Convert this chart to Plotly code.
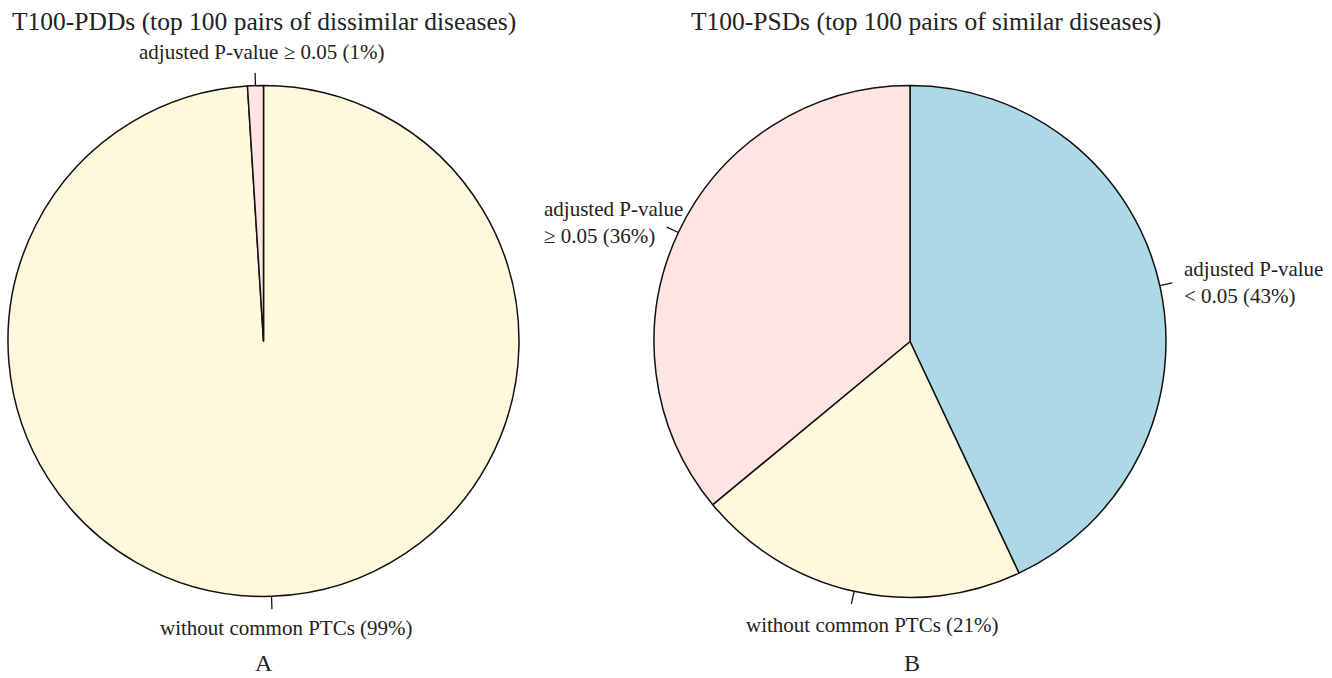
import math
import plotly.graph_objects as go

W, H = 1332, 678

# Data
cats_A = ["without common PTCs", "adjusted P-value ≥ 0.05"]
vals_A = [99, 1]
cols_A = ["#FFF8DC", "#FFE4E1"]

cats_B = ["adjusted P-value < 0.05", "without common PTCs", "adjusted P-value ≥ 0.05"]
vals_B = [43, 21, 36]
cols_B = ["#ADD8E6", "#FFF8DC", "#FFE4E1"]

labels_A = ["without common PTCs (99%)", "adjusted P-value ≥ 0.05 (1%)"]
labels_B = ["adjusted P-value<br>< 0.05 (43%)", "without common PTCs (21%)",
            "adjusted P-value<br>≥ 0.05 (36%)"]

title_A = "T100-PDDs (top 100 pairs of dissimilar diseases)"
title_B = "T100-PSDs (top 100 pairs of similar diseases)"

FONT = "Liberation Serif, Times New Roman, serif"
TXT = "#222222"


def px(x):
    return x / W


def py(y):
    return 1 - y / H


# pie geometry (pixels)
pies = [
    dict(cx=263.5, cy=341.0, r=255.5, vals=vals_A, cats=cats_A, cols=cols_A,
         labels=labels_A,
         tpos=[(286, 628, "center", "center"), (261, 52, "center", "center")]),
    dict(cx=910.0, cy=341.5, r=256.0, vals=vals_B, cats=cats_B, cols=cols_B,
         labels=labels_B,
         tpos=[(1182, 283, "left", "left"), (872, 625, "center", "center"),
               (542, 222, "left", "left")]),
]

fig = go.Figure()
shapes = []
annotations = []

for p in pies:
    cx, cy, r = p["cx"], p["cy"], p["r"]
    fig.add_trace(go.Pie(
        labels=p["cats"], values=p["vals"], sort=False, direction="clockwise",
        rotation=0, textinfo="none", hoverinfo="label+percent",
        marker=dict(colors=p["cols"], line=dict(color="#111111", width=1.5)),
        domain=dict(x=[px(cx - r), px(cx + r)], y=[py(cy + r), py(cy - r)]),
        showlegend=False,
    ))
    total = sum(p["vals"])
    cum = 0
    for v, lab, (tx, ty, xa, al) in zip(p["vals"], p["labels"], p["tpos"]):
        mid = (cum + v / 2) / total
        cum += v
        ang = 2 * math.pi * mid  # clockwise from top
        sx, sy = math.sin(ang), -math.cos(ang)
        x0, y0 = cx + r * sx, cy + r * sy
        x1, y1 = cx + 1.05 * r * sx, cy + 1.05 * r * sy
        shapes.append(dict(type="line", xref="paper", yref="paper",
                           x0=px(x0), y0=py(y0), x1=px(x1), y1=py(y1),
                           line=dict(color="#111111", width=1.3)))
        annotations.append(dict(x=px(tx), y=py(ty), xref="paper", yref="paper",
                                text=lab, showarrow=False, xanchor=xa,
                                yanchor="middle", align=al,
                                font=dict(family=FONT, size=21, color=TXT)))

for t, x in [(title_A, 263.5), (title_B, 926)]:
    annotations.append(dict(x=px(x), y=py(21), xref="paper", yref="paper",
                            text=t, showarrow=False, xanchor="center",
                            yanchor="middle", borderpad=0,
                            font=dict(family=FONT, size=25.5, color=TXT)))

for t, x in [("A", 263.5), ("B", 912)]:
    annotations.append(dict(x=px(x), y=py(663), xref="paper", yref="paper",
                            text=t, showarrow=False, xanchor="center",
                            yanchor="middle",
                            font=dict(family=FONT, size=24, color=TXT)))

fig.update_layout(
    width=W, height=H, margin=dict(l=0, r=0, t=0, b=0),
    paper_bgcolor="white", plot_bgcolor="white",
    shapes=shapes, annotations=annotations,
)

fig.write_html("out.html", config={"displayModeBar": False},
               post_script="document.body.style.margin='0px';")
